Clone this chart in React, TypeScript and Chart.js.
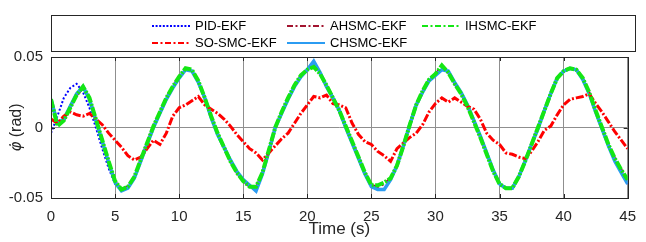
import React, { useEffect, useRef } from "react";
import { Chart, registerables } from "chart.js";

Chart.register(...registerables);

const TIME = [
  0, 0.5, 1, 1.5, 2, 2.5, 3, 3.5, 4, 4.5, 5, 5.5, 6, 6.5, 7, 7.5, 8, 8.5, 9, 9.5,
  10, 10.5, 11, 11.5, 12, 12.5, 13, 13.5, 14, 14.5, 15, 15.5, 16, 16.5, 17, 17.5, 18, 18.5, 19, 19.5,
  20, 20.5, 21, 21.5, 22, 22.5, 23, 23.5, 24, 24.5, 25, 25.5, 26, 26.5, 27, 27.5, 28, 28.5, 29, 29.5,
  30, 30.5, 31, 31.5, 32, 32.5, 33, 33.5, 34, 34.5, 35, 35.5, 36, 36.5, 37, 37.5, 38, 38.5, 39, 39.5,
  40, 40.5, 41, 41.5, 42, 42.5, 43, 43.5, 44, 44.5, 45,
];

const PID_EKF = [
  -0.004, 0.008, 0.021, 0.028, 0.031, 0.025, 0.014, 0.0, -0.015, -0.029,
  -0.040, -0.045, -0.043, -0.036, -0.024, -0.012, 0.0, 0.010, 0.020, 0.028,
  0.035, 0.041, 0.040, 0.032, 0.021, 0.007, -0.005, -0.014, -0.023, -0.031,
  -0.037, -0.041, -0.045, -0.033, -0.017, 0.0, 0.010, 0.020, 0.029, 0.036,
  0.041, 0.047, 0.039, 0.029, 0.021, 0.012, 0.0, -0.011, -0.022, -0.033,
  -0.042, -0.044, -0.044, -0.037, -0.027, -0.013, 0.002, 0.016, 0.025, 0.033,
  0.037, 0.041, 0.040, 0.032, 0.025, 0.016, 0.005, -0.006, -0.018, -0.030,
  -0.040, -0.043, -0.043, -0.035, -0.024, -0.012, -0.001, 0.012, 0.024, 0.035,
  0.040, 0.042, 0.041, 0.034, 0.024, 0.011, -0.001, -0.013, -0.024, -0.032,
  -0.040,
];

const SO_SMC_EKF = [
  0.006, 0.003, 0.008, 0.011, 0.009, 0.008, 0.010, 0.006, 0.002, -0.004,
  -0.009, -0.014, -0.020, -0.023, -0.021, -0.015, -0.009, -0.012, -0.004, 0.008,
  0.014, 0.016, 0.019, 0.022, 0.016, 0.013, 0.010, 0.006, 0.001, -0.005,
  -0.010, -0.015, -0.018, -0.023, -0.018, -0.013, -0.008, -0.004, 0.003, 0.010,
  0.016, 0.022, 0.021, 0.023, 0.017, 0.016, 0.014, 0.003, -0.005, -0.010,
  -0.012, -0.017, -0.020, -0.024, -0.015, -0.011, -0.007, -0.004, 0.002, 0.011,
  0.017, 0.021, 0.018, 0.021, 0.018, 0.015, 0.013, 0.006, -0.004, -0.009,
  -0.012, -0.018, -0.019, -0.021, -0.022, -0.017, -0.010, -0.002, 0.001, 0.009,
  0.016, 0.020, 0.021, 0.022, 0.024, 0.017, 0.011, 0.004, -0.003, -0.009,
  -0.015,
];

const AHSMC_EKF = [
  0.019, 0.002, 0.005, 0.014, 0.023, 0.028, 0.021, 0.006, -0.009, -0.024,
  -0.038, -0.044, -0.042, -0.035, -0.023, -0.011, 0.001, 0.011, 0.021, 0.029,
  0.036, 0.041, 0.041, 0.033, 0.021, 0.008, -0.004, -0.014, -0.024, -0.032,
  -0.038, -0.042, -0.043, -0.032, -0.016, 0.0, 0.011, 0.021, 0.030, 0.037,
  0.041, 0.044, 0.038, 0.030, 0.021, 0.012, 0.001, -0.010, -0.021, -0.032,
  -0.041, -0.042, -0.040, -0.036, -0.027, -0.013, 0.002, 0.016, 0.026, 0.034,
  0.038, 0.043, 0.039, 0.031, 0.024, 0.015, 0.004, -0.007, -0.019, -0.031,
  -0.040, -0.043, -0.043, -0.035, -0.024, -0.012, 0.0, 0.012, 0.024, 0.035,
  0.040, 0.042, 0.041, 0.035, 0.025, 0.012, 0.0, -0.012, -0.022, -0.030,
  -0.037,
];

const IHSMC_EKF = [
  0.020, 0.001, 0.005, 0.014, 0.023, 0.029, 0.021, 0.006, -0.009, -0.024,
  -0.038, -0.044, -0.042, -0.035, -0.023, -0.011, 0.001, 0.011, 0.021, 0.029,
  0.036, 0.042, 0.041, 0.033, 0.021, 0.008, -0.004, -0.014, -0.024, -0.032,
  -0.038, -0.042, -0.042, -0.032, -0.016, 0.0, 0.011, 0.021, 0.030, 0.037,
  0.041, 0.043, 0.038, 0.030, 0.021, 0.012, 0.001, -0.010, -0.021, -0.032,
  -0.041, -0.041, -0.039, -0.036, -0.027, -0.013, 0.002, 0.016, 0.026, 0.034,
  0.038, 0.044, 0.039, 0.031, 0.024, 0.015, 0.004, -0.007, -0.019, -0.031,
  -0.040, -0.043, -0.043, -0.035, -0.024, -0.012, 0.0, 0.012, 0.024, 0.035,
  0.040, 0.042, 0.041, 0.035, 0.025, 0.012, 0.0, -0.012, -0.022, -0.030,
  -0.037,
];

const CHSMC_EKF = [
  0.020, 0.003, 0.006, 0.015, 0.024, 0.029, 0.020, 0.005, -0.010, -0.025,
  -0.039, -0.045, -0.043, -0.036, -0.024, -0.012, 0.0, 0.010, 0.020, 0.028,
  0.035, 0.041, 0.040, 0.032, 0.021, 0.007, -0.005, -0.014, -0.023, -0.031,
  -0.037, -0.041, -0.045, -0.033, -0.017, 0.0, 0.010, 0.020, 0.029, 0.036,
  0.041, 0.047, 0.039, 0.029, 0.021, 0.012, 0.0, -0.011, -0.022, -0.033,
  -0.042, -0.044, -0.044, -0.037, -0.027, -0.013, 0.002, 0.016, 0.025, 0.033,
  0.037, 0.041, 0.040, 0.032, 0.025, 0.016, 0.005, -0.006, -0.018, -0.030,
  -0.040, -0.043, -0.043, -0.035, -0.024, -0.012, -0.001, 0.012, 0.024, 0.035,
  0.040, 0.042, 0.041, 0.034, 0.024, 0.011, -0.001, -0.013, -0.024, -0.032,
  -0.040,
];

const X_TICKS = [0, 5, 10, 15, 20, 25, 30, 35, 40, 45];
const Y_TICKS = [-0.05, 0, 0.05];
const Y_TICK_LABELS = ["-0.05", "0", "0.05"];
const X_TITLE = "Time (s)";
const Y_TITLE_SYMBOL = "\u03C6\u0307";
const Y_TITLE_UNIT = " (rad)";

const FONT = '"Liberation Sans", Arial, sans-serif';

type Series = { label: string; data: number[]; color: string; width: number; dash: number[]; legendDash: number[]; order: number };

const SERIES: Series[] = [
  { label: "PID-EKF", data: PID_EKF, color: "#0000ff", width: 2, dash: [2, 2], legendDash: [2, 1.6], order: 5 },
  { label: "SO-SMC-EKF", data: SO_SMC_EKF, color: "#ff0000", width: 3, dash: [8, 2, 2, 2], legendDash: [6, 2.5, 2, 2.5], order: 2 },
  { label: "AHSMC-EKF", data: AHSMC_EKF, color: "#a2142f", width: 2.5, dash: [7, 3, 2, 3], legendDash: [6, 2.5, 2, 2.5], order: 4 },
  { label: "CHSMC-EKF", data: CHSMC_EKF, color: "#2b9cf2", width: 3.5, dash: [], legendDash: [], order: 3 },
  { label: "IHSMC-EKF", data: IHSMC_EKF, color: "#14e614", width: 4, dash: [9, 1.5, 2, 1.5], legendDash: [6, 2.5, 2, 2.5], order: 1 },
];

// legend layout: [seriesIndex, column, row]
const LEGEND_ITEMS: [number, number, number][] = [
  [0, 0, 0],
  [2, 1, 0],
  [4, 2, 0],
  [1, 0, 1],
  [3, 1, 1],
];

const decorPlugin = {
  id: "decor",
  afterDraw(chart: any) {
    const ctx = chart.ctx as CanvasRenderingContext2D;
    const { left, right, top, bottom } = chart.chartArea;
    const xs = chart.scales.x;
    const ys = chart.scales.y;
    ctx.save();
    ctx.strokeStyle = "#262626";
    ctx.lineWidth = 1;
    ctx.setLineDash([]);
    X_TICKS.forEach((t) => {
      const px = Math.round(xs.getPixelForValue(t)) + 0.5;
      ctx.beginPath();
      ctx.moveTo(px, top);
      ctx.lineTo(px, top + 4);
      ctx.moveTo(px, bottom);
      ctx.lineTo(px, bottom - 4);
      ctx.stroke();
    });
    Y_TICKS.forEach((v) => {
      const py = Math.round(ys.getPixelForValue(v)) + 0.5;
      ctx.beginPath();
      ctx.moveTo(left, py);
      ctx.lineTo(left + 4, py);
      ctx.moveTo(right, py);
      ctx.lineTo(right - 4, py);
      ctx.stroke();
    });
    ctx.strokeStyle = "#262626";
    ctx.strokeRect(Math.round(left) + 0.5, Math.round(top) + 0.5, Math.round(right - left), Math.round(bottom - top));

    ctx.fillStyle = "#262626";
    ctx.font = `17px ${FONT}`;
    ctx.textAlign = "center";
    ctx.textBaseline = "middle";
    ctx.fillText(X_TITLE, (left + right) / 2, 229);

    ctx.save();
    ctx.translate(17, (top + bottom) / 2);
    ctx.rotate(-Math.PI / 2);
    ctx.font = `italic 15px "DejaVu Sans", ${FONT}`;
    const w1 = ctx.measureText(Y_TITLE_SYMBOL).width;
    ctx.font = `16px ${FONT}`;
    const w2 = ctx.measureText(Y_TITLE_UNIT).width;
    const startX = -(w1 + w2) / 2;
    ctx.textAlign = "left";
    ctx.font = `italic 15px "DejaVu Sans", ${FONT}`;
    ctx.fillText(Y_TITLE_SYMBOL, startX, 0);
    ctx.font = `16px ${FONT}`;
    ctx.fillText(Y_TITLE_UNIT, startX + w1, 0);
    ctx.restore();

    const bx = 51.5, by = 15.5, bw = 584, bh = 36;
    ctx.fillStyle = "#ffffff";
    ctx.fillRect(bx, by, bw, bh);
    ctx.strokeStyle = "#262626";
    ctx.lineWidth = 1;
    ctx.strokeRect(bx, by, bw, bh);
    const colX = [152, 287, 422];
    const rowY = [26, 43];
    ctx.font = `13px ${FONT}`;
    ctx.textAlign = "left";
    ctx.textBaseline = "middle";
    LEGEND_ITEMS.forEach(([si, c, r]) => {
      const s = SERIES[si];
      const x0 = colX[c];
      const y0 = rowY[r];
      ctx.strokeStyle = s.color;
      ctx.lineWidth = 2;
      ctx.setLineDash(s.legendDash);
      ctx.beginPath();
      ctx.moveTo(x0, y0);
      ctx.lineTo(x0 + 38, y0);
      ctx.stroke();
      ctx.setLineDash([]);
      ctx.fillStyle = "#000000";
      ctx.fillText(s.label, x0 + 43, y0 + 0.5);
    });
    ctx.restore();
  },
};

export default function App() {
  const canvasRef = useRef<HTMLCanvasElement | null>(null);

  useEffect(() => {
    document.body.style.margin = "0";
    const canvas = canvasRef.current;
    if (!canvas) return;
    const chart = new Chart(canvas, {
      type: "line",
      data: {
        datasets: SERIES.map((s) => ({
          label: s.label,
          data: TIME.map((t, i) => ({ x: t, y: s.data[i] })),
          borderColor: s.color,
          backgroundColor: s.color,
          borderWidth: s.width,
          borderDash: s.dash,
          pointRadius: 0,
          tension: 0,
          fill: false,
          order: s.order,
        })),
      },
      options: {
        responsive: false,
        animation: false,
        events: [],
        layout: { padding: { left: 0, right: 11, top: 57, bottom: 0 } },
        plugins: {
          legend: { display: false },
          tooltip: { enabled: false },
        },
        scales: {
          x: {
            type: "linear",
            min: 0,
            max: 45,
            afterBuildTicks: (scale: any) => {
              scale.ticks = X_TICKS.map((v) => ({ value: v }));
            },
            afterFit: (scale: any) => {
              scale.height = 44;
            },
            grid: { color: "#8f8f8f", lineWidth: 1, drawTicks: false },
            border: { display: false },
            ticks: {
              color: "#262626",
              font: { family: FONT, size: 15 },
              padding: 10,
              maxRotation: 0,
              autoSkip: false,
            },
          },
          y: {
            type: "linear",
            min: -0.05,
            max: 0.05,
            afterBuildTicks: (scale: any) => {
              scale.ticks = Y_TICKS.map((v) => ({ value: v }));
            },
            afterFit: (scale: any) => {
              scale.width = 51;
            },
            grid: { color: "#8f8f8f", lineWidth: 1, drawTicks: false },
            border: { display: false },
            ticks: {
              color: "#262626",
              font: { family: FONT, size: 15 },
              padding: 8,
              autoSkip: false,
              callback: (v: any) => {
                const idx = Y_TICKS.findIndex((t) => Math.abs(t - Number(v)) < 1e-9);
                return idx >= 0 ? Y_TICK_LABELS[idx] : "";
              },
            },
          },
        },
      },
      plugins: [decorPlugin],
    });
    return () => chart.destroy();
  }, []);

  return (
    <div style={{ width: 646, height: 242, position: "relative", background: "#fff" }}>
      <canvas ref={canvasRef} width={646} height={242} style={{ display: "block" }} />
    </div>
  );
}
